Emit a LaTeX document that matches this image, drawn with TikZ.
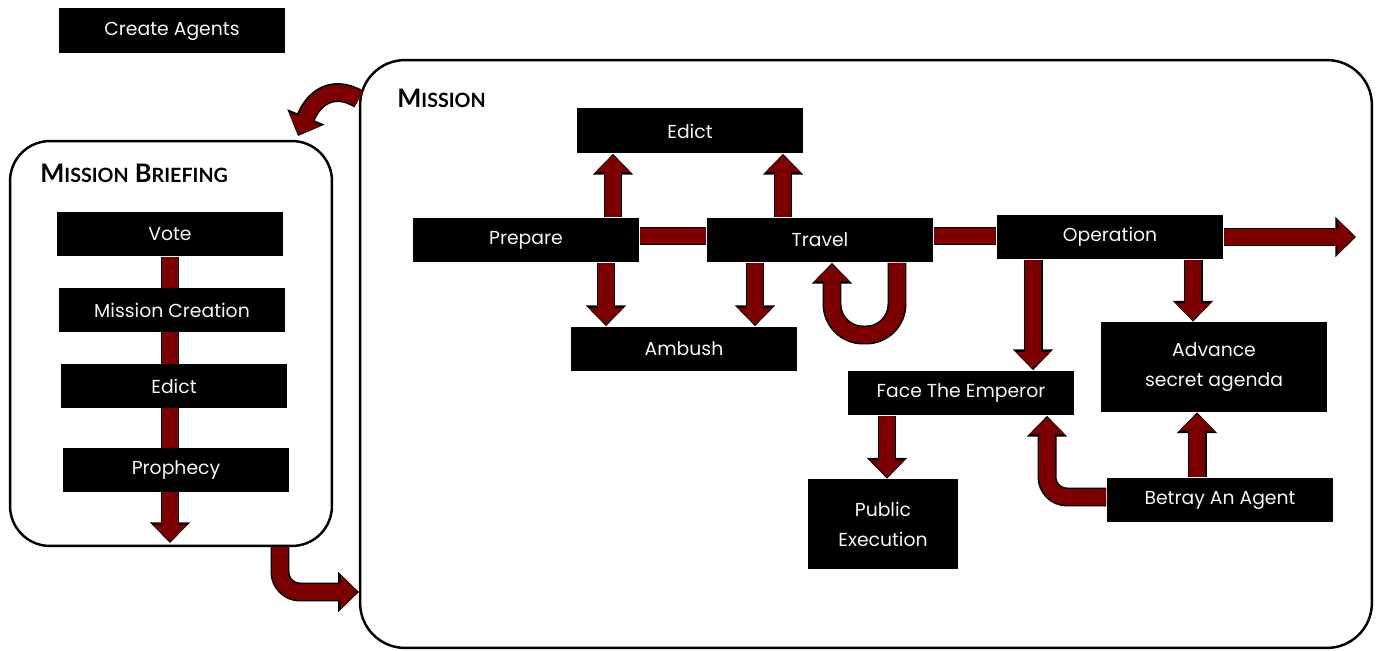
\documentclass[tikz,border=0pt]{standalone}
\usepackage{fontspec}
\setmainfont{Poppins}
\newfontfamily\headfont{Lato}
\usetikzlibrary{arrows.meta}
\definecolor{blood}{RGB}{125,0,0}
\newcommand{\fakesc}[1]{{\fontsize{11.2}{12}\selectfont #1}}

\begin{document}
\begin{tikzpicture}[x=0.02cm, y=-0.02cm]
    % Define styles
    \tikzset{
        blackbox/.style={fill=black, text=gray!8, minimum width=4.54cm, minimum height=0.9cm,
            inner sep=0pt, align=center, font=\fontsize{10.7}{17}\selectfont},
        panel/.style={draw=black, line width=1.4pt, inner sep=0pt},
        heading/.style={anchor=base west, inner sep=0pt, font=\headfont\bfseries\fontsize{14.5}{15}\selectfont},
        fat/.style={line width=9pt, draw=blood, shorten >=0.9pt,
            -{Triangle[length=9.5pt, width=19pt]},
            preaction={draw=black, line width=10.8pt, shorten >=0pt,
                -{Triangle[length=11.8pt, width=22.3pt]}}},
        bar/.style={line width=9pt, draw=blood, preaction={draw=black, line width=10.8pt}}
    }
    \useasboundingbox (0,0) rectangle (1376,651);

    % Top box
    \node[blackbox] (create) at (172,31) {Create Agents};

    % Panels
    \node[panel, rounded corners=0.8cm, minimum width=6.44cm, minimum height=8.1cm] (briefing) at (171,343.5) {};
    \node[panel, rounded corners=0.9cm, minimum width=20.24cm, minimum height=11.76cm] (mission) at (866,354) {};
    \node[heading] (brieftitle) at (40,183) {M\fakesc{ISSION} B\fakesc{RIEFING}};
    \node[heading] (missiontitle) at (397,108) {M\fakesc{ISSION}};

    % Mission briefing column
    \node[blackbox] (vote) at (170,234) {Vote};
    \coordinate (briefend) at (170,543);
    \draw[fat] (vote.south) -- (briefend);
    \node[blackbox] (creation) at (172,310) {Mission Creation};
    \node[blackbox] (briefedict) at (174,386) {Edict};
    \node[blackbox] (prophecy) at (176,470) {Prophecy};

    % Mission nodes
    \node[blackbox] (edict) at (690,131) {Edict};
    \node[blackbox] (prepare) at (526,240) {Prepare};
    \node[blackbox] (travel) at (820,240) {Travel};
    \node[blackbox] (operation) at (1110,237) {Operation};
    \node[blackbox] (ambush) at (684,349) {Ambush};
    \node[blackbox] (face) at (961,393) {Face The Emperor};
    \node[blackbox, minimum height=1.8cm] (advance) at (1214,367) {Advance\\secret agenda};
    \node[blackbox, minimum width=3.02cm, minimum height=1.8cm] (public) at (883,524) {Public\\Execution};
    \node[blackbox] (betray) at (1220,500) {Betray An Agent};

    % Main line
    \draw[bar] (prepare.east |- 0,236) -- (travel.west |- 0,236);
    \draw[bar] (travel.east |- 0,236) -- (operation.west |- 0,236);
    \coordinate (exit) at (1356,237);
    \draw[fat] (operation.east |- exit) -- (exit);

    % Edict and ambush
    \draw[fat] (prepare.north -| 613,0) -- (edict.south -| 613,0);
    \draw[fat] (travel.north -| 783,0) -- (edict.south -| 783,0);
    \draw[fat] (prepare.south -| 606,0) -- (ambush.north -| 606,0);
    \draw[fat] (travel.south -| 755,0) -- (ambush.north -| 755,0);

    % Travel loop
    \draw[fat, rounded corners=0.62cm] (travel.south -| 897,0) -- (897,335) -- (832,335) -- (travel.south -| 832,0);

    % Operation outcomes
    \draw[fat] (operation.south -| 1033,0) -- (face.north -| 1033,0);
    \draw[fat] (operation.south -| 1193,0) -- (advance.north -| 1193,0);
    \draw[fat] (face.south -| 887,0) -- (public.north -| 887,0);
    \draw[fat] (betray.north -| 1197,0) -- (advance.south -| 1197,0);
    \draw[fat, rounded corners=0.4cm] (betray.west |- 0,497) -- (1047,497) -- (face.south -| 1047,0);

    % Between panels
    \coordinate (brieftop) at (298,136);
    \draw[fat] (mission.west |- 0,99) .. controls (335,85) and (315,95) .. (brieftop);
    \draw[fat, rounded corners=0.4cm] (briefing.south -| 280,0) -- (280,592) -- (mission.west |- 0,592);

\end{tikzpicture}
\end{document}
